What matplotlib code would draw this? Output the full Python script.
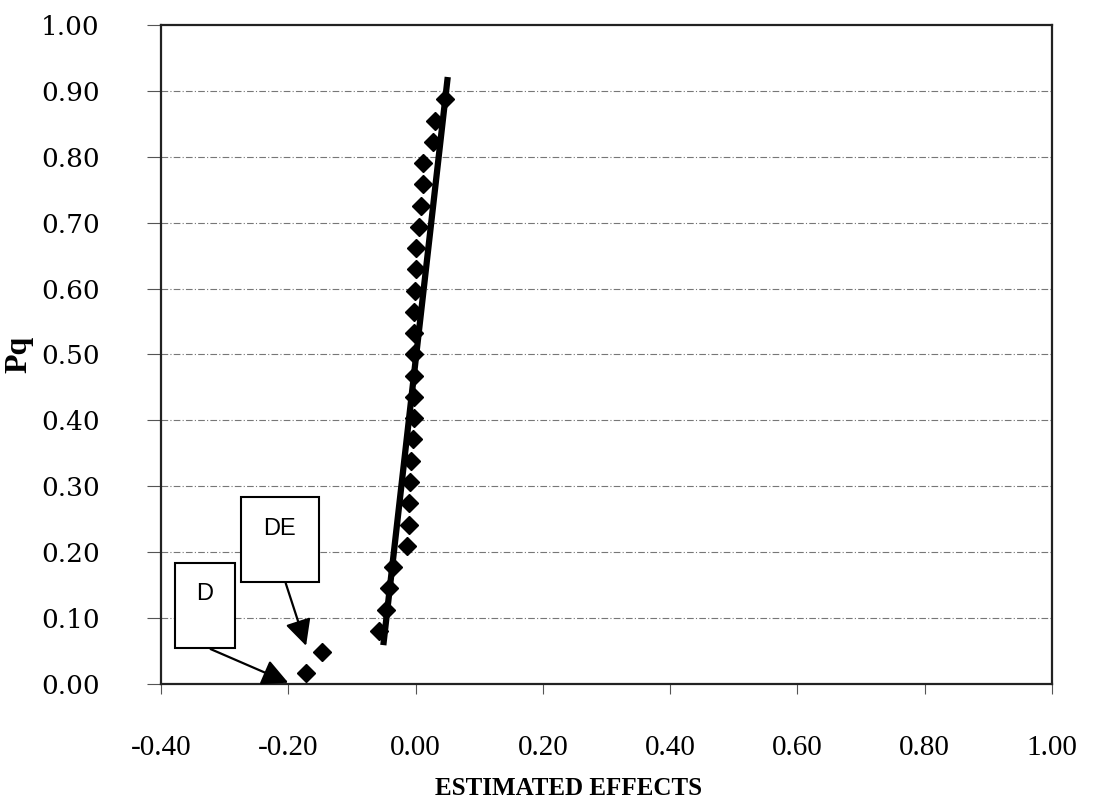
import matplotlib.pyplot as plt
from matplotlib.patches import Rectangle

# estimated effects (sorted) and their normal probabilities
effects = [-0.172, -0.147, -0.057, -0.046, -0.041, -0.036, -0.013, -0.011,
           -0.010, -0.008, -0.007, -0.004, -0.003, -0.003, -0.003, -0.002,
           -0.002, -0.002, -0.001, 0.000, 0.001, 0.006, 0.009, 0.011,
           0.012, 0.028, 0.031, 0.046]
pq = [0.016, 0.048, 0.081, 0.113, 0.145, 0.177, 0.210, 0.242, 0.274, 0.306,
      0.339, 0.371, 0.403, 0.435, 0.468, 0.500, 0.532, 0.565, 0.597, 0.629,
      0.661, 0.694, 0.726, 0.758, 0.790, 0.823, 0.855, 0.887]

# straight reference line through the bulk of the effects
fit_effects = [-0.0506, 0.0506]
fit_pq = [0.059, 0.921]

x_ticks = [-0.40, -0.20, 0.00, 0.20, 0.40, 0.60, 0.80, 1.00]
y_ticks = [0.00, 0.10, 0.20, 0.30, 0.40, 0.50, 0.60, 0.70, 0.80, 0.90, 1.00]

# callouts: label, box (x0, y0, w, h), text position, arrow start, arrow tip
callouts = [
    ('DE', (-0.274, 0.155, 0.122, 0.129), (-0.213, 0.235), (-0.204, 0.153), (-0.172, 0.058)),
    ('D', (-0.378, 0.055, 0.094, 0.129), (-0.332, 0.137), (-0.322, 0.053), (-0.200, 0.002)),
]

fig = plt.figure(figsize=(10.95, 8.05), dpi=100)
ax = fig.add_axes([0.147, 0.1503, 0.8137, 0.8187])

for y in y_ticks[1:-1]:
    ax.axhline(y, color='#777777', lw=0.8, ls=(0, (6, 2, 1, 2)), zorder=1)

ax.plot(fit_effects, fit_pq, color='black', lw=4.5, solid_capstyle='butt', zorder=3)
ax.plot(effects, pq, ls='none', marker='D', ms=9, color='black', zorder=4)

for label, box, tpos, start, tip in callouts:
    ax.add_patch(Rectangle(box[:2], box[2], box[3], facecolor='white',
                           edgecolor='black', lw=1.5, zorder=5))
    ax.text(tpos[0], tpos[1], label, ha='center', va='center', fontsize=17,
            family='Liberation Sans', zorder=6)
    ax.annotate('', xy=tip, xytext=start,
                arrowprops=dict(arrowstyle='-|>,head_length=0.8,head_width=0.4',
                                mutation_scale=20, color='black', lw=1.6,
                                shrinkA=0, shrinkB=0), zorder=6)

ax.set_xlim(-0.40, 1.00)
ax.set_ylim(0.00, 1.00)
ax.set_xticks(x_ticks)
ax.set_yticks(y_ticks)
ax.set_xticklabels(['%.2f' % v for v in x_ticks], family='Liberation Serif', fontsize=21)
ax.set_yticklabels(['%.2f' % v for v in y_ticks], family='DejaVu Serif', fontsize=19)
ax.tick_params(axis='x', direction='out', length=7, width=0.8, color='#555555', pad=30)
ax.tick_params(axis='y', direction='out', length=10, width=0.8, color='#555555', pad=34)

for s in ax.spines.values():
    s.set_linewidth(1.6)
    s.set_color('#222222')

ax.set_xlabel('ESTIMATED EFFECTS', family='Liberation Serif', fontweight='bold', fontsize=18)
ax.xaxis.set_label_coords(0.457, -0.141)
ax.set_ylabel('Pq', family='Liberation Serif', fontweight='bold', fontsize=23)
ax.yaxis.set_label_coords(-0.143, 0.5)

fig.savefig('out.png', dpi=100)
